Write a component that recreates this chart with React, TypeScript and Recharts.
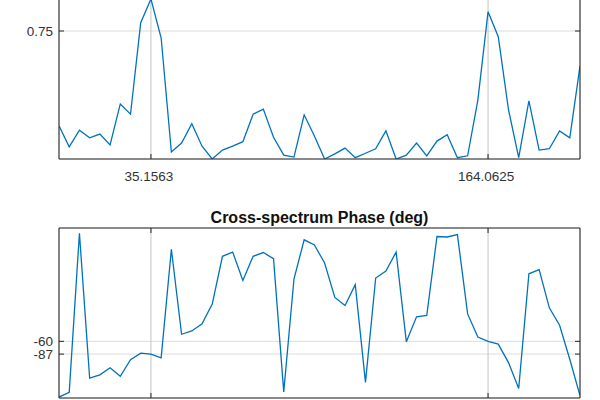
import { LineChart, Line, XAxis, YAxis, CartesianGrid } from "recharts";

// frequency bins (Hz), 52 points
const FREQ = [
  0, 3.90625, 7.8125, 11.71875, 15.625, 19.53125, 23.4375, 27.34375, 31.25, 35.15625,
  39.0625, 42.96875, 46.875, 50.78125, 54.6875, 58.59375, 62.5, 66.40625, 70.3125, 74.21875,
  78.125, 82.03125, 85.9375, 89.84375, 93.75, 97.65625, 101.5625, 105.46875, 109.375, 113.28125,
  117.1875, 121.09375, 125, 128.90625, 132.8125, 136.71875, 140.625, 144.53125, 148.4375, 152.34375,
  156.25, 160.15625, 164.0625, 167.96875, 171.875, 175.78125, 179.6875, 183.59375, 187.5, 191.40625,
  195.3125, 199.21875,
];

const MAGNITUDE = [
  0.602, 0.569, 0.595, 0.583, 0.589, 0.572, 0.636, 0.62, 0.763, 0.8,
  0.739, 0.561, 0.575, 0.605, 0.57, 0.55, 0.564, 0.57, 0.577, 0.62,
  0.628, 0.584, 0.556, 0.553, 0.619, 0.586, 0.55, 0.558, 0.567, 0.552,
  0.559, 0.566, 0.594, 0.55, 0.556, 0.575, 0.555, 0.578, 0.588, 0.552,
  0.555, 0.642, 0.78, 0.741, 0.627, 0.552, 0.641, 0.564, 0.566, 0.594,
  0.583, 0.695,
];

const PHASE = [
  -178, -168, 169, -138, -131, -116, -134, -99, -85, -87,
  -95, 135, -45, -38, -23, 19, 120, 129, 69, 120,
  128, 115, -167, 72, 155, 144, 106, 33, 16, 60,
  -147, 74, 89, 129, -61, -8, -5, 162, 161, 166,
  -2, -51, -60, -66, -105, -160, 83, 92, 11, -26,
  -98, -175,
];

const FREQ_TICKS = [35.15625, 164.0625];
const FREQ_TICK_LABELS = ["35.1563", "164.0625"];
const MAG_TICKS = [0.75];
const MAG_TICK_LABELS = ["0.75"];
const PHASE_TICKS = [-87, -60];
const PHASE_TICK_LABELS = ["-87", "-60"];

const TITLE = "Cross-spectrum Phase (deg)";

const FONT = "'Liberation Sans', Arial, sans-serif";
const AXIS_COLOR = "#262626";
const LINE_COLOR = "#0072BD";
const TICK_LEN = 5;

const magData = FREQ.map((f, i) => ({ f, v: MAGNITUDE[i] }));
const phaseData = FREQ.map((f, i) => ({ f, v: PHASE[i] }));

function labelFor(value: number, ticks: number[], labels: string[]) {
  const i = ticks.findIndex((t) => Math.abs(t - value) < 1e-6);
  return i >= 0 ? labels[i] : String(value);
}

// left y axis: label + inward tick mark
function LeftTick(props: any) {
  const { x, y, payload, ticks, labels, margin } = props;
  const ax = x + margin;
  return (
    <g>
      <line x1={ax} x2={ax + TICK_LEN} y1={y} y2={y} stroke={AXIS_COLOR} />
      <text x={x} y={y} dy={5} textAnchor="end" fill="#333" fontSize={13.5} fontFamily={FONT}>
        {labelFor(payload.value, ticks, labels)}
      </text>
    </g>
  );
}

function RightTick(props: any) {
  const { x, y } = props;
  return <line x1={x} x2={x - TICK_LEN} y1={y} y2={y} stroke={AXIS_COLOR} />;
}

function BottomTick(props: any) {
  const { x, y, payload, ticks, labels, margin, showLabel } = props;
  const ay = y - margin;
  return (
    <g>
      <line x1={x} x2={x} y1={ay} y2={ay - TICK_LEN} stroke={AXIS_COLOR} />
      {showLabel && (
        <text x={x - 2} y={y} dy={13} textAnchor="middle" fill="#333" fontSize={13.5} fontFamily={FONT}>
          {labelFor(payload.value, ticks, labels)}
        </text>
      )}
    </g>
  );
}

function TopTick(props: any) {
  const { x, y } = props;
  return <line x1={x} x2={x} y1={y} y2={y + TICK_LEN} stroke={AXIS_COLOR} />;
}

function Panel({ data, yTicks, yLabels, domain, height, margin, topAxis, xLabels }: {
  data: { f: number; v: number }[];
  yTicks: number[];
  yLabels: string[];
  domain: [number, number];
  height: number;
  margin: { top: number; right: number; bottom: number; left: number };
  topAxis: boolean;
  xLabels: boolean;
}) {
  return (
    <LineChart width={600} height={height} data={data} margin={margin}>
      <CartesianGrid horizontal={true} vertical={false} stroke="#dcdcdc" />
      <CartesianGrid horizontal={false} vertical={true} stroke="#c4c4c4" />
      <XAxis
        dataKey="f"
        type="number"
        domain={[FREQ[0], FREQ[FREQ.length - 1]]}
        ticks={FREQ_TICKS}
        height={30}
        tickSize={0}
        tickMargin={9}
        tickLine={false}
        axisLine={{ stroke: AXIS_COLOR }}
        tick={<BottomTick ticks={FREQ_TICKS} labels={FREQ_TICK_LABELS} margin={9} showLabel={xLabels} />}
        interval={0}
        allowDataOverflow
      />
      {topAxis && (
        <XAxis
          xAxisId="t"
          orientation="top"
          dataKey="f"
          type="number"
          domain={[FREQ[0], FREQ[FREQ.length - 1]]}
          ticks={FREQ_TICKS}
          height={10}
          tickSize={0}
          tickMargin={0}
          tickLine={false}
          axisLine={{ stroke: AXIS_COLOR }}
          tick={<TopTick />}
          interval={0}
          allowDataOverflow
        />
      )}
      <YAxis
        type="number"
        domain={domain}
        ticks={yTicks}
        width={59}
        tickSize={0}
        tickMargin={6}
        tickLine={false}
        axisLine={{ stroke: AXIS_COLOR }}
        tick={<LeftTick ticks={yTicks} labels={yLabels} margin={6} />}
        interval={0}
        allowDataOverflow
      />
      <YAxis
        yAxisId="r"
        orientation="right"
        type="number"
        domain={domain}
        ticks={yTicks}
        width={20}
        tickSize={0}
        tickMargin={0}
        tickLine={false}
        axisLine={{ stroke: AXIS_COLOR }}
        tick={<RightTick />}
        interval={0}
        allowDataOverflow
      />
      <Line
        dataKey="v"
        type="linear"
        stroke={LINE_COLOR}
        strokeWidth={1.3}
        dot={false}
        isAnimationActive={false}
      />
    </LineChart>
  );
}

export default function App() {
  return (
    <div style={{
      position: "absolute", left: 0, top: 0, width: 600, height: 400,
      overflow: "hidden", background: "#fff",
    }}>
      <div style={{ position: "absolute", left: 0, top: -20 }}>
        <Panel
          data={magData}
          yTicks={MAG_TICKS}
          yLabels={MAG_TICK_LABELS}
          domain={[0.55, 0.8]}
          height={209}
          margin={{ top: 19, right: 0, bottom: 0, left: 0 }}
          topAxis={false}
          xLabels={true}
        />
      </div>
      <div style={{
        position: "absolute", left: 59, width: 521, top: 210,
        textAlign: "center", fontFamily: FONT, fontWeight: "bold",
        fontSize: 16, lineHeight: 1, color: "#111",
      }}>
        {TITLE}
      </div>
      <div style={{ position: "absolute", left: 0, top: 218 }}>
        <Panel
          data={phaseData}
          yTicks={PHASE_TICKS}
          yLabels={PHASE_TICK_LABELS}
          domain={[-180, 180]}
          height={210}
          margin={{ top: 0, right: 0, bottom: 0, left: 0 }}
          topAxis={true}
          xLabels={false}
        />
      </div>
    </div>
  );
}
